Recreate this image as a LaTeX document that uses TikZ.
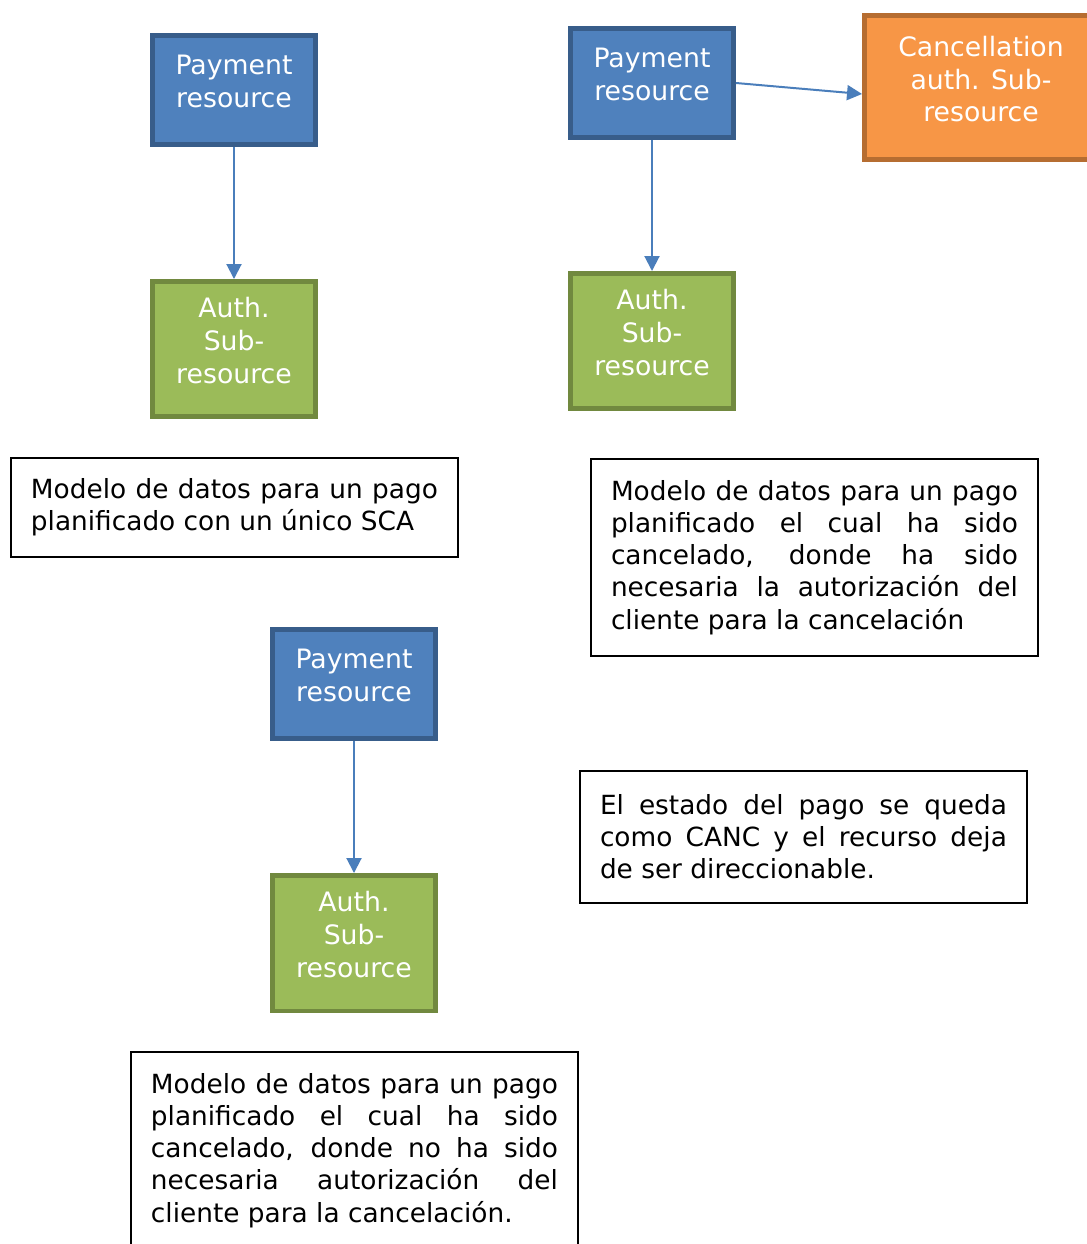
\documentclass[tikz,border=0pt]{standalone}
\usepackage{fontspec}
\setmainfont{DejaVu Sans}
\usetikzlibrary{arrows.meta}

\definecolor{payfill}{HTML}{4F81BD}
\definecolor{payline}{HTML}{385D8A}
\definecolor{authfill}{HTML}{9BBB59}
\definecolor{authline}{HTML}{71893F}
\definecolor{cancelfill}{HTML}{F79646}
\definecolor{cancelline}{HTML}{B66D31}
\definecolor{edgecolor}{HTML}{4A7EBB}

\begin{document}
\begin{tikzpicture}[x=0.02cm, y=-0.02cm,
        box_style/.style={rectangle, line width=0.09cm, text=white, align=center,
            font=\fontsize{15.2}{18.6}\selectfont, execute at end node={\rule[-0.34cm]{0pt}{0pt}}},
        pay_style/.style={box_style, draw=payline, fill=payfill, minimum width=3.27cm, minimum height=2.19cm},
        auth_style/.style={box_style, draw=authline, fill=authfill, minimum width=3.27cm, minimum height=2.71cm},
        cancel_style/.style={box_style, draw=cancelline, fill=cancelfill, minimum width=4.67cm, minimum height=2.89cm},
        note_style/.style={rectangle, draw=black, line width=0.04cm, fill=white, anchor=north west,
            text width=8.14cm, inner xsep=0.4cm, align=justify, font=\fontsize{15}{18.3}\selectfont},
        edge_style/.style={draw=edgecolor, line width=0.04cm, -{Triangle[length=0.3cm, width=0.3cm]}}]

        \useasboundingbox (0,0) rectangle (1087,1244);

        % single SCA
        \node [pay_style](pay1) at (234,90) {Payment\\resource};

        \node [auth_style](auth1) at (234,349) {Auth.\\Sub-\\resource};

        \node [note_style, minimum height=1.98cm](note1) at (10,457) {Modelo de datos para un pago\linebreak planificado con un único SCA};

        % cancelled with authorisation
        \node [pay_style](pay2) at (652,83) {Payment\\resource};

        \node [auth_style](auth2) at (652,341) {Auth.\\Sub-\\resource};

        \node [cancel_style](cancel2) at (981,87.5) {Cancellation\\auth. Sub-\\resource};

        \node [note_style, minimum height=3.94cm](note2) at (590,458) {Modelo de datos para un pago\linebreak planificado el cual ha sido\linebreak cancelado, donde ha sido\linebreak necesaria la autorización del\linebreak cliente para la cancelación};

        % cancelled without authorisation
        \node [pay_style](pay3) at (354,684) {Payment\\resource};

        \node [auth_style](auth3) at (354,943) {Auth.\\Sub-\\resource};

        \node [note_style, minimum height=2.64cm](note3) at (579,770) {El estado del pago se queda\linebreak como CANC y el recurso deja\linebreak de ser direccionable.};

        \node [note_style, minimum height=3.94cm](note4) at (130,1051) {Modelo de datos para un pago\linebreak planificado el cual ha sido\linebreak cancelado, donde no ha sido\linebreak necesaria autorización del\linebreak cliente para la cancelación.};

        \draw [edge_style] (pay1) -- (auth1);

        \draw [edge_style] (pay2) -- (auth2);

        \draw [edge_style] (pay2.east) -- ([yshift=-0.13cm]cancel2.west);

        \draw [edge_style] (pay3) -- (auth3);

\end{tikzpicture}
\end{document}
